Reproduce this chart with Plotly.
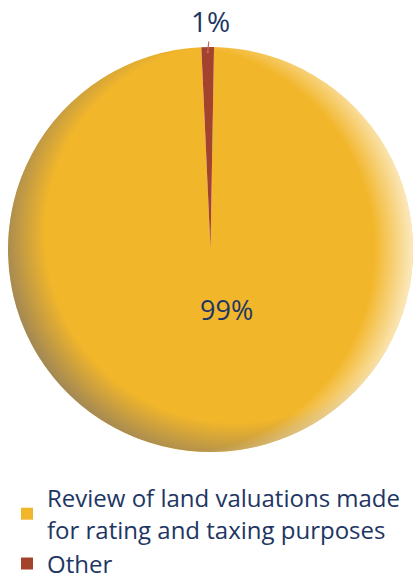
import math
import urllib.parse
import plotly.graph_objects as go

labels = ["Review of land valuations made<br>for rating and taxing purposes", "Other"]
values = [99, 1]
colors = ["#F2B62A", "#A3432D"]

navy = "#1E3663"
W, H = 416, 580

# pie box in pixels (left, top, right, bottom)
px_l, px_t, px_r, px_b = 8, 47, 413, 452
cx = (px_l + px_r) / 2
cy = (px_t + px_b) / 2
r = (px_r - px_l) / 2
rotation = 1

fig = go.Figure(
    go.Pie(
        labels=labels,
        values=values,
        textinfo="none",
        sort=False,
        direction="clockwise",
        rotation=rotation,
        marker=dict(colors=colors, line=dict(width=0)),
        domain=dict(x=[px_l / W, px_r / W], y=[1 - px_b / H, 1 - px_t / H]),
        hoverinfo="label+percent",
    )
)

# shading overlay (sphere-like edge darkening / highlight)
svg = (
    "<svg xmlns='http://www.w3.org/2000/svg' viewBox='0 0 100 100' preserveAspectRatio='none'>"
    "<defs>"
    "<radialGradient id='a' cx='0.56' cy='0.46' r='0.57'>"
    "<stop offset='0.82' stop-color='#6e6a70' stop-opacity='0'/>"
    "<stop offset='1' stop-color='#6e6a70' stop-opacity='0.6'/>"
    "</radialGradient>"
    "<radialGradient id='b' cx='0.40' cy='0.5' r='0.60'>"
    "<stop offset='0.84' stop-color='#ffffff' stop-opacity='0'/>"
    "<stop offset='1' stop-color='#ffffff' stop-opacity='0.7'/>"
    "</radialGradient>"
    "<clipPath id='c'><circle cx='50' cy='50' r='50'/></clipPath>"
    "</defs>"
    "<g clip-path='url(#c)'>"
    "<rect width='100' height='100' fill='url(#a)'/>"
    "<rect width='100' height='100' fill='url(#b)'/>"
    "</g></svg>"
)
src = "data:image/svg+xml;charset=utf-8," + urllib.parse.quote(svg)
fig.add_layout_image(
    source=src,
    xref="paper", yref="paper",
    x=px_l / W, y=1 - px_t / H,
    sizex=(px_r - px_l) / W, sizey=(px_b - px_t) / H,
    xanchor="left", yanchor="top",
    sizing="stretch",
    layer="above",
)

# in-slice value label for the large slice
fig.add_annotation(
    x=(cx + 0.077 * r) / W,
    y=1 - (cy + 0.294 * r) / H,
    xref="paper", yref="paper",
    text=f"{values[0]}%",
    showarrow=False,
    font=dict(family="Open Sans", size=27, color=navy),
)

# outside value label for the small slice, with leader line
total = sum(values)
theta = math.radians(rotation + 360 * (values[0] + values[1] / 2) / total)
tip_r = r - 5
fig.add_annotation(
    x=(cx + tip_r * math.sin(theta)) / W,
    y=1 - (cy - tip_r * math.cos(theta)) / H,
    xref="paper", yref="paper",
    text=f"{values[1]}%",
    showarrow=True,
    arrowhead=6,
    arrowsize=0.5,
    arrowwidth=1.2,
    arrowcolor="#C8665A",
    ax=3, ay=-31,
    font=dict(family="Open Sans", size=28, color=navy),
)

fig.update_layout(
    width=W,
    height=H,
    margin=dict(l=0, r=0, t=0, b=0, autoexpand=False),
    paper_bgcolor="white",
    plot_bgcolor="white",
    showlegend=True,
    legend=dict(
        x=7 / W,
        y=1 - 476 / H,
        xanchor="left",
        yanchor="top",
        font=dict(family="Open Sans", size=24, color=navy),
        itemwidth=30,
        bgcolor="rgba(0,0,0,0)",
    ),
)

fig.write_html(
    "out.html",
    config={"displayModeBar": False},
    post_script="document.body.style.margin='0';document.body.style.overflow='hidden';",
)
